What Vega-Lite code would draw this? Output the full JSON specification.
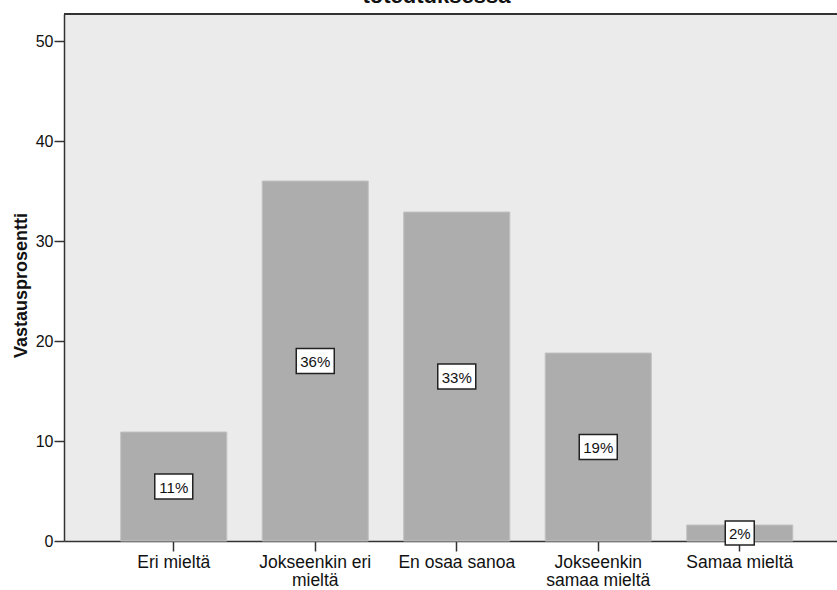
{
  "$schema": "https://vega.github.io/schema/vega-lite/v6.json",
  "autosize": {"type": "none"},
  "padding": {"left": 64, "top": 14, "right": 0, "bottom": 49},
  "width": 773,
  "height": 527,
  "background": "white",
  "title": {
    "text": "toteutuksessa",
    "font": "Liberation Sans",
    "fontSize": 22,
    "fontWeight": "bold",
    "color": "#111111",
    "anchor": "middle",
    "baseline": "top",
    "offset": 0,
    "dy": -5,
    "dx": -14
  },
  "config": {
    "view": {"fill": "#ebebeb", "stroke": null},
    "font": "Liberation Sans"
  },
  "data": {
    "values": [
      {"vastaus": "Eri mieltä", "pct": 10.9},
      {"vastaus": "Jokseenkin eri mieltä", "pct": 36.0},
      {"vastaus": "En osaa sanoa", "pct": 32.9},
      {"vastaus": "Jokseenkin samaa mieltä", "pct": 18.8},
      {"vastaus": "Samaa mieltä", "pct": 1.6}
    ]
  },
  "encoding": {
    "x": {
      "field": "vastaus",
      "type": "nominal",
      "sort": null,
      "title": null,
      "scale": {"paddingInner": 0.25, "paddingOuter": 0.3565, "align": 0.562, "round": false},
      "axis": {
        "labelAngle": 0,
        "labelFontSize": 17.5,
        "labelColor": "#111111",
        "labelPadding": 2,
        "labelLineHeight": 18,
        "labelBaseline": "top",
        "tickSize": 10,
        "tickColor": "#333333",
        "tickWidth": 1.5,
        "domainColor": "#333333",
        "domainWidth": 1.5,
        "labelExpr": "datum.label == 'Jokseenkin eri mieltä' ? ['Jokseenkin eri', 'mieltä'] : datum.label == 'Jokseenkin samaa mieltä' ? ['Jokseenkin', 'samaa mieltä'] : datum.label"
      }
    }
  },
  "layer": [
    {
      "mark": {"type": "bar", "color": "#adadad", "stroke": "#c2c2c2", "strokeWidth": 1},
      "encoding": {
        "y": {
          "field": "pct",
          "type": "quantitative",
          "title": "Vastausprosentti",
          "scale": {"domain": [0, 52.7], "nice": false, "zero": true},
          "axis": {
            "values": [0, 10, 20, 30, 40, 50],
            "grid": false,
            "labelFontSize": 16,
            "labelColor": "#111111",
            "labelPadding": 1,
            "tickSize": 10,
            "tickColor": "#333333",
            "tickWidth": 1.5,
            "domainColor": "#333333",
            "domainWidth": 1.5,
            "titleFontSize": 18,
            "titleFontWeight": "bold",
            "titleColor": "#111111",
            "titleAngle": -90,
            "titleX": -38,
            "titleY": 271,
            "titleAlign": "center",
            "titleBaseline": "alphabetic"
          }
        }
      }
    },
    {
      "mark": {"type": "rule", "color": "#333333", "strokeWidth": 1.5},
      "encoding": {"y": {"datum": 52.7, "type": "quantitative"}, "x": {}}
    },
    {
      "transform": [{"calculate": "datum.pct / 2", "as": "mid"}],
      "mark": {"type": "point", "filled": true, "fill": "white", "stroke": "#222222", "strokeWidth": 1.5, "opacity": 1},
      "encoding": {
        "y": {"field": "mid", "type": "quantitative"},
        "shape": {
          "condition": {"test": "datum.pct < 5", "value": "M-1,-0.83H1V0.83H-1Z"},
          "value": "M-1,-0.66H1V0.66H-1Z"
        },
        "size": {
          "condition": {"test": "datum.pct < 5", "value": 841},
          "value": 1444
        }
      }
    },
    {
      "transform": [
        {"calculate": "datum.pct / 2", "as": "mid"},
        {"calculate": "format(datum.pct, '.0f') + '%'", "as": "label"}
      ],
      "mark": {"type": "text", "fontSize": 15, "color": "#111111", "baseline": "middle", "align": "center", "dy": 1},
      "encoding": {
        "y": {"field": "mid", "type": "quantitative"},
        "text": {"field": "label", "type": "nominal"}
      }
    }
  ]
}
